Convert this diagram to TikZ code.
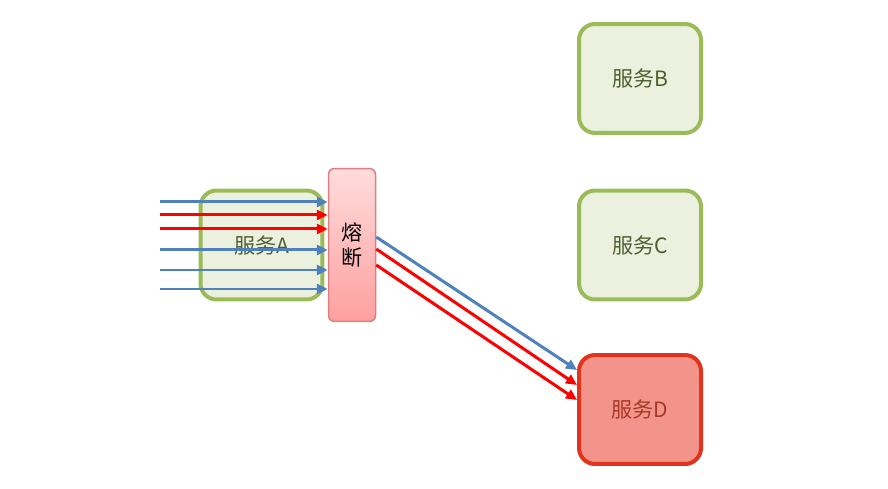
\documentclass[tikz,border=0pt]{standalone}
\usepackage{fontspec}
\setmainfont{Noto Sans CJK SC}
\usetikzlibrary{arrows.meta}

\definecolor{okline}{HTML}{9BBB59}
\definecolor{okfill}{HTML}{EBF1DE}
\definecolor{oktext}{HTML}{4F5F2F}
\definecolor{badline}{HTML}{E0341E}
\definecolor{badfill}{HTML}{F2948A}
\definecolor{badtext}{HTML}{A8392A}
\definecolor{brkline}{HTML}{D98080}
\definecolor{brktop}{HTML}{FFDCDC}
\definecolor{brkbot}{HTML}{FF9F9F}
\definecolor{callblue}{HTML}{4F81BD}
\definecolor{callred}{HTML}{FF0000}

\begin{document}
\begin{tikzpicture}[
    x=0.02cm, y=-0.02cm,
    font=\fontsize{12pt}{14pt}\selectfont,
    >={Triangle[length=0.22cm,width=0.2cm]},
    svc/.style={
        draw=okline,
        fill=okfill,
        text=oktext,
        line width=0.08cm,
        rounded corners=0.32cm,
        minimum width=2.44cm,
        minimum height=2.18cm
    },
    downsvc/.style={
        svc,
        draw=badline,
        fill=badfill,
        text=badtext
    },
    breaker/.style={
        draw=brkline,
        top color=brktop,
        bottom color=brkbot,
        line width=0.03cm,
        rounded corners=0.12cm,
        minimum width=0.94cm,
        minimum height=3.06cm,
        align=center
    },
    okcall/.style={->, draw=callblue, line width=0.06cm},
    badcall/.style={->, draw=callred, line width=0.06cm}
]
\useasboundingbox (0,0) rectangle (888,489);

\node[svc] (svcA) at (261.5,245) {服务A};
\node[svc] (svcB) at (640,78.5) {服务B};
\node[svc] (svcC) at (640,245) {服务C};
\node[downsvc] (svcD) at (640,409.5) {服务D};

% incoming calls
\coordinate (in1) at (160,202);
\coordinate (in2) at (160,215);
\coordinate (in3) at (160,229);
\coordinate (in4) at (160,250);
\coordinate (in5) at (160,270);
\coordinate (in6) at (160,289);

\node[breaker] (brk) at (352,245) {熔\\断};

\draw[okcall] (in1) -- (in1 -| brk.west);
\draw[badcall] (in2) -- (in2 -| brk.west);
\draw[badcall] (in3) -- (in3 -| brk.west);
\draw[okcall] (in4) -- (in4 -| brk.west);
\draw[okcall] (in5) -- (in5 -| brk.west);
\draw[okcall] (in6) -- (in6 -| brk.west);

% calls passed on to D
\draw[okcall] ([yshift=0.16cm]brk.east) -- ([yshift=0.79cm]svcD.west);
\draw[badcall] ([yshift=-0.08cm]brk.east) -- ([yshift=0.49cm]svcD.west);
\draw[badcall] ([yshift=-0.4cm]brk.east) -- ([yshift=0.19cm]svcD.west);
\end{tikzpicture}
\end{document}
